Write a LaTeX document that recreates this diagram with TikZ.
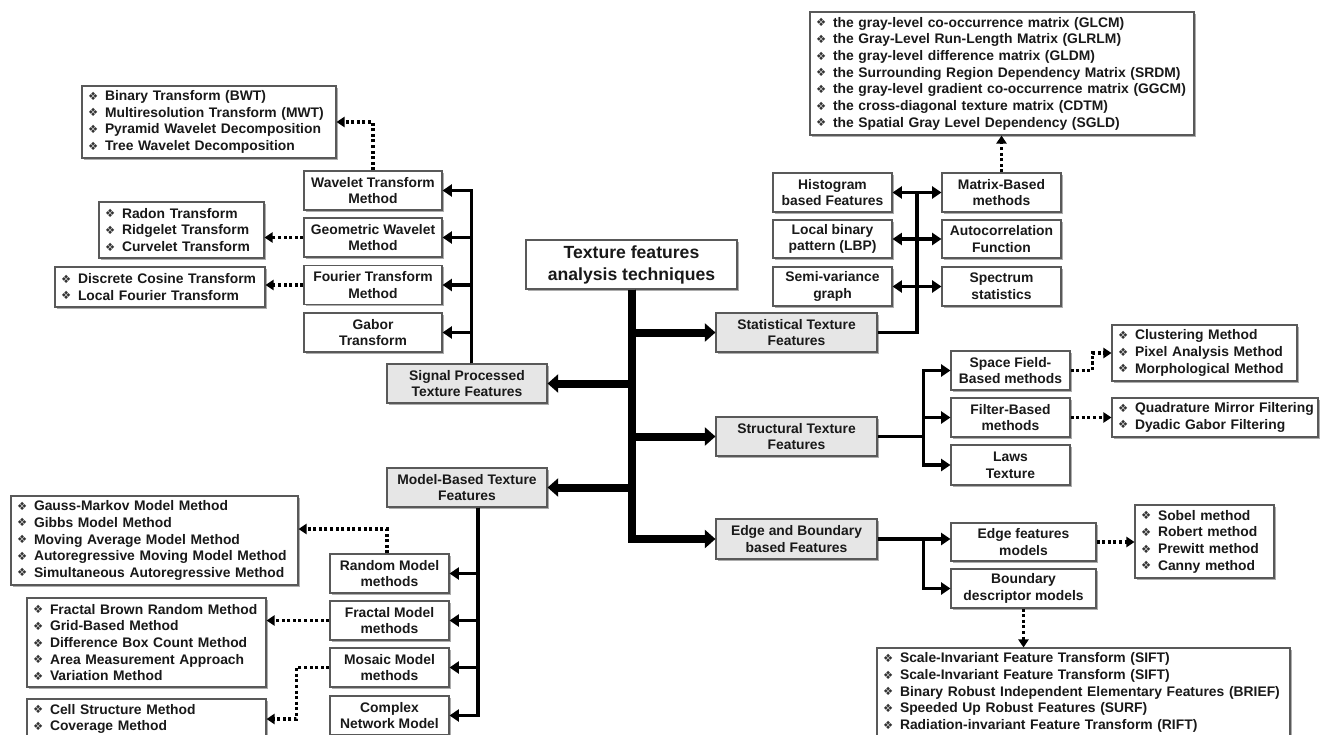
\documentclass[tikz,border=0pt]{standalone}
\usepackage{fontspec}
\setmainfont{Liberation Sans}
\newfontfamily\dejavu{DejaVu Sans}
\usetikzlibrary{arrows.meta,calc,shadows}
\definecolor{catgray}{RGB}{230,230,230}
\newcommand\boxfont{\fontsize{10.4pt}{12.5pt}\selectfont\bfseries}
\newcommand\titlefont{\fontsize{13.2pt}{16.5pt}\selectfont\bfseries}
\newcommand\itm[1]{\mbox{\makebox[12.75pt][l]{\raisebox{0.3pt}{\dejavu\mdseries\fontsize{8.5pt}{8.5pt}\selectfont\color{black!80}❖}}#1}}
\tikzset{
  wh/.code 2 args={\pgfmathsetlengthmacro\tmpw{#1*0.75pt}\pgfmathsetlengthmacro\tmph{#2*0.75pt}%
    \edef\tmpx{\noexpand\tikzset{minimum width=\tmpw,minimum height=\tmph}}\tmpx},
  tw/.code={\pgfmathsetlengthmacro\tmpt{#1*0.75pt}\edef\tmpx{\noexpand\tikzset{text width=\tmpt}}\tmpx},
  bx/.style={draw=black!65, line width=0.8pt, fill=white, inner sep=0pt, align=center,
    font=\boxfont, text=black!90,
    drop shadow={shadow xshift=1.3pt, shadow yshift=-1.3pt, fill=black!40, opacity=0.8}},
  catbox/.style={bx, fill=catgray},
  listbox/.style={bx, align=left},
  bigarrow/.style={line width=6pt, -{Triangle[length=8pt,width=13.5pt]}},
  thinarrow/.style={line width=2.6pt, -{Triangle[length=7pt,width=9pt]}},
  thinline/.style={line width=2.6pt},
  dblarrow/.style={line width=2.6pt, {Triangle[length=7pt,width=9pt]}-{Triangle[length=7pt,width=9pt]}},
  dotarrow/.style={line width=2.3pt, dash pattern=on 2.3pt off 1.9pt, -{Triangle[length=6pt,width=7.5pt]}},
}
\begin{document}
\begin{tikzpicture}[x=0.75pt,y=-0.75pt]
\useasboundingbox (0,0) rectangle (1324,735);
\clip (0,0) rectangle (1324,735);

% main
\node[bx, wh={211}{49}, font=\titlefont] (main) at (631.5,264.5) {Texture features\\analysis techniques};

% categories
\node[catbox, wh={160}{39}] (sig) at (467,383.5) {Signal Processed\\Texture Features};
\node[catbox, wh={160}{39}] (mod) at (467,487.5) {Model-Based Texture\\Features};
\node[catbox, wh={161}{39}] (stat) at (796.5,332.5) {Statistical Texture\\Features};
\node[catbox, wh={161}{39}] (struc) at (796.5,436.5) {Structural Texture\\Features};
\node[catbox, wh={161}{40}] (edge) at (796.5,539) {Edge and Boundary\\based Features};

% signal processed children
\node[bx, wh={138}{39}] (wav) at (373,190.5) {Wavelet Transform\\Method};
\node[bx, wh={138}{39}] (geo) at (373,237.5) {Geometric Wavelet\\Method};
\node[bx, wh={138}{39}] (fou) at (373,285) {Fourier Transform\\Method};
\node[bx, wh={138}{39}] (gab) at (373,332.5) {Gabor\\Transform};

\node[listbox, wh={254}{72}, tw=242] (bwt) at (209,122) {\itm{Binary Transform (BWT)}\\\itm{Multiresolution Transform (MWT)}\\\itm{Pyramid Wavelet Decomposition}\\\itm{Tree Wavelet Decomposition}};
\node[listbox, wh={165}{56}, tw=153] (radon) at (181.5,230) {\itm{Radon Transform}\\\itm{Ridgelet Transform}\\\itm{Curvelet Transform}};
\node[listbox, wh={210}{40}, tw=198] (dct) at (160,287) {\itm{Discrete Cosine Transform}\\\itm{Local Fourier Transform}};

% statistical children
\node[bx, wh={119}{39}] (hist) at (832.5,192.5) {Histogram\\based Features};
\node[bx, wh={119}{38}] (lbp) at (832.5,239) {Local binary\\pattern (LBP)};
\node[bx, wh={119}{39}] (semi) at (832.5,286.5) {Semi-variance\\graph};
\node[bx, wh={119}{39}] (mat) at (1001.5,192.5) {Matrix-Based\\methods};
\node[bx, wh={119}{38}] (auto) at (1001.5,239) {Autocorrelation\\Function};
\node[bx, wh={119}{39}] (spec) at (1001.5,286.5) {Spectrum\\statistics};
\node[listbox, wh={384}{123}, tw=372] (glcm) at (1002,73.5) {\itm{the gray-level co-occurrence matrix (GLCM)}\\\itm{the Gray-Level Run-Length Matrix (GLRLM)}\\\itm{the gray-level difference matrix (GLDM)}\\\itm{the Surrounding Region Dependency Matrix (SRDM)}\\\itm{the gray-level gradient co-occurrence matrix (GGCM)}\\\itm{the cross-diagonal texture matrix (CDTM)}\\\itm{the Spatial Gray Level Dependency (SGLD)}};

% structural children
\node[bx, wh={119}{39}] (space) at (1010.5,370.5) {Space Field-\\Based methods};
\node[bx, wh={119}{39}] (filt) at (1010.5,417.5) {Filter-Based\\methods};
\node[bx, wh={119}{40}] (laws) at (1010.5,465) {Laws\\Texture};
\node[listbox, wh={185}{56}, tw=173] (clus) at (1204.5,353) {\itm{Clustering Method}\\\itm{Pixel Analysis Method}\\\itm{Morphological Method}};
\node[listbox, wh={206}{39}, tw=194] (quad) at (1215,417.5) {\itm{Quadrature Mirror Filtering}\\\itm{Dyadic Gabor Filtering}};

% edge children
\node[bx, wh={145}{38}] (edf) at (1023.5,542) {Edge features\\models};
\node[bx, wh={145}{39}] (bnd) at (1023.5,588.5) {Boundary\\descriptor models};
\node[listbox, wh={139}{73}, tw=127] (sob) at (1204.5,541.5) {\itm{Sobel method}\\\itm{Robert method}\\\itm{Prewitt method}\\\itm{Canny method}};
\node[listbox, wh={413}{89}, tw=401] (sift) at (1083.5,692.5) {\itm{Scale-Invariant Feature Transform (SIFT)}\\\itm{Scale-Invariant Feature Transform (SIFT)}\\\itm{Binary Robust Independent Elementary Features (BRIEF)}\\\itm{Speeded Up Robust Features (SURF)}\\\itm{Radiation-invariant Feature Transform (RIFT)}};

% model children
\node[bx, wh={119}{39}] (rand) at (389.5,573.5) {Random Model\\methods};
\node[bx, wh={119}{39}] (frac) at (389.5,620.5) {Fractal Model\\methods};
\node[bx, wh={119}{39}] (mos) at (389.5,667.5) {Mosaic Model\\methods};
\node[bx, wh={119}{39}] (cplx) at (389.5,715.5) {Complex\\Network Model};
\node[listbox, wh={287}{89}, tw=275] (gauss) at (154.5,540.5) {\itm{Gauss-Markov Model Method}\\\itm{Gibbs Model Method}\\\itm{Moving Average Model Method}\\\itm{Autoregressive Moving Model Method}\\\itm{Simultaneous Autoregressive Method}};
\node[listbox, wh={239}{89}, tw=227] (fbr) at (146.5,642.5) {\itm{Fractal Brown Random Method}\\\itm{Grid-Based Method}\\\itm{Difference Box Count Method}\\\itm{Area Measurement Approach}\\\itm{Variation Method}};
\node[listbox, wh={239}{40}, tw=227] (cell) at (146.5,719) {\itm{Cell Structure Method}\\\itm{Coverage Method}};

% thick connectors from main
\draw[bigarrow] (main.south) |- (sig.east);
\draw[bigarrow] (main.south) |- (mod.east);
\draw[bigarrow] (main.south) |- (stat.west);
\draw[bigarrow] (main.south) |- (struc.west);
\draw[bigarrow] (main.south) |- (edge.west);

% signal branch
\coordinate (sigtop) at ($(sig.north)+(4.5,0)$);
\foreach \t in {wav,geo,fou,gab} \draw[thinarrow] (sigtop) |- (\t.east);

% model branch
\coordinate (modbot) at ($(mod.south)+(11,0)$);
\foreach \t in {rand,frac,mos,cplx} \draw[thinarrow] (modbot) |- (\t.east);

% statistical branch
\draw[thinline] (stat.east) -| ($(hist.east)!0.5!(mat.west)$);
\draw[dblarrow] (hist.east) -- (mat.west);
\draw[dblarrow] (lbp.east) -- (auto.west);
\draw[dblarrow] (semi.east) -- (spec.west);

% structural branch
\coordinate (sj) at ($(struc.east)+(46,0)$);
\draw[thinline] (struc.east) -- (sj);
\foreach \t in {space,filt,laws} \draw[thinarrow] (sj) |- (\t.west);

% edge branch
\draw[thinarrow] (edge.east) -- (edge.east -| edf.west);
\draw[thinarrow] ($(edge.east)+(46,0)$) |- (bnd.west);

% dotted links
\draw[dotarrow] (wav.north) |- (bwt.east);
\draw[dotarrow] (geo.west) -- (geo.west -| radon.east);
\draw[dotarrow] (fou.west) -- (fou.west -| dct.east);
\draw[dotarrow] (mat.north) -- (mat.north |- glcm.south);
\draw[dotarrow] (space.east) -- ++(22,0) |- (clus.west);
\draw[dotarrow] (filt.east) -- (filt.east -| quad.west);
\draw[dotarrow] (edf.east) -- (edf.east -| sob.west);
\draw[dotarrow] (bnd.south) -- (bnd.south |- sift.north);
\draw[dotarrow] ($(rand.north)+(-2.5,0)$) |- ($(gauss.east)+(0,-11.5)$);
\draw[dotarrow] (frac.west) -- (frac.west -| fbr.east);
\draw[dotarrow] (mos.west) -- ++(-33,0) |- (cell.east);
\end{tikzpicture}
\end{document}
